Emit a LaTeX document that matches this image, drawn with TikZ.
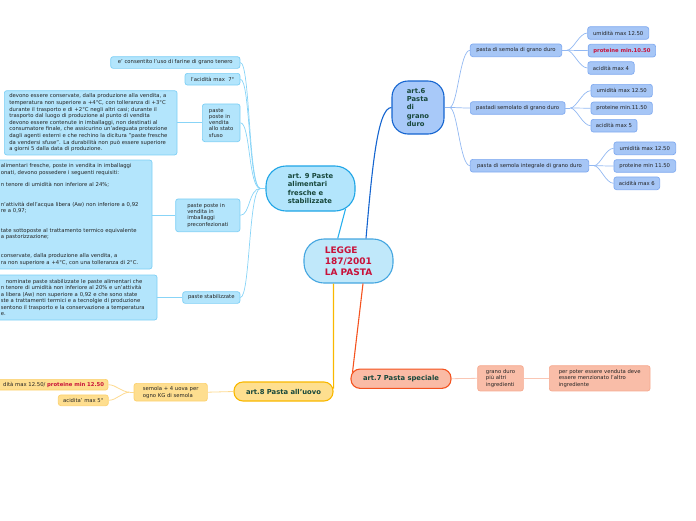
\documentclass[tikz,border=0pt]{standalone}
\usepackage{fontspec}
\setmainfont{DejaVu Sans}
\usetikzlibrary{calc}
\definecolor{headtxt}{HTML}{17473B}
\definecolor{leaftxt}{HTML}{222222}
\definecolor{redtxt}{HTML}{C8123A}
\definecolor{lgfill}{HTML}{C0E8FA}
\definecolor{lgline}{HTML}{45A6E0}
\definecolor{a9fill}{HTML}{B3E5FC}
\definecolor{a9line}{HTML}{1FA5E6}
\definecolor{l9fill}{HTML}{B3E5FC}
\definecolor{l9line}{HTML}{7DCFF5}
\definecolor{col9}{HTML}{88D4F7}
\definecolor{col9main}{HTML}{29B0EE}
\definecolor{a6fill}{HTML}{A8C9F9}
\definecolor{a6line}{HTML}{1565D0}
\definecolor{l6fill}{HTML}{A6C6F6}
\definecolor{l6line}{HTML}{80AAF0}
\definecolor{col6}{HTML}{92B8F2}
\definecolor{a8fill}{HTML}{FEDF8F}
\definecolor{a8line}{HTML}{F9B800}
\definecolor{l8fill}{HTML}{FEDE8F}
\definecolor{l8line}{HTML}{FCD16E}
\definecolor{col8}{HTML}{FDDA90}
\definecolor{a7fill}{HTML}{FABBA5}
\definecolor{a7line}{HTML}{F4531F}
\definecolor{l7fill}{HTML}{F9BDA8}
\definecolor{l7line}{HTML}{F6AA90}
\definecolor{col7}{HTML}{FAC6B4}
\begin{document}
\begin{tikzpicture}[x=1pt,y=-1pt,
  head/.style={draw, align=left, inner sep=0pt, line width=1.1pt, text=headtxt,
    font=\fontsize{6.8}{8.3}\selectfont\bfseries},
  leaf/.style={draw, align=left, inner sep=0pt, rounded corners=2.5pt, line width=0.7pt,
    text=leaftxt, font=\fontsize{5.3}{6.3}\selectfont},
  sz/.style 2 args={minimum width=#1, minimum height=#2},
  b9/.style={leaf, fill=l9fill, draw=l9line},
  b6/.style={leaf, fill=l6fill, draw=l6line},
  b8/.style={leaf, fill=l8fill, draw=l8line},
  b7/.style={leaf, fill=l7fill, draw=l7line},
  con9/.style={draw=col9, line width=0.7pt},
  con6/.style={draw=col6, line width=0.7pt},
  con8/.style={draw=col8, line width=0.8pt},
  con7/.style={draw=col7, line width=0.8pt},
  mainline/.style={line width=1.1pt}
]
\useasboundingbox (0,0) rectangle (696,520);
\clip (0,0) rectangle (696,520);

% main nodes
\node[head, fill=lgfill, draw=lgline, rounded corners=20pt, sz={89}{44}, text=redtxt,
  font=\fontsize{9}{11}\selectfont\bfseries] (legge) at (348.5,261) {LEGGE\\187/2001\\LA PASTA};
\node[head, fill=a9fill, draw=a9line, rounded corners=20pt, sz={89}{45}] (art9) at (310.5,188.5)
  {art. 9 Paste\\alimentari\\fresche e\\stabilizzate};
\node[head, fill=a6fill, draw=a6line, rounded corners=16pt, sz={52}{53}] (art6) at (418,107.5)
  {art.6\\Pasta\\di\\grano\\duro};
\node[head, fill=a8fill, draw=a8line, rounded corners=9pt, sz={99}{19}] (art8) at (283.5,391.5)
  {art.8 Pasta all'uovo};
\node[head, fill=a7fill, draw=a7line, rounded corners=9pt, sz={100}{19.3}] (art7) at (401,378.7)
  {art.7 Pasta speciale};

% art.6 branch
\node[b6, sz={91.4}{12.7}] (p1) at (516,50.3) {pasta di semola di grano duro};
\node[b6, sz={94.7}{12.6}] (p2) at (517.7,108) {pastadi semolato di grano duro};
\node[b6, sz={118.4}{12.7}] (p3) at (529.5,165.7) {pasta di semola integrale di grano duro};
\node[b6, sz={61}{12.6}] (q11) at (618.2,33) {umidità max 12.50};
\node[b6, sz={67.4}{12.7}] (q12) at (621.9,50.6) {\textbf{\color{redtxt}proteine min.10.50}};
\node[b6, sz={46.3}{12.6}] (q13) at (611,68) {acidità max 4};
\node[b6, sz={61.3}{12.7}] (q21) at (621.7,90.7) {umidità max 12.50};
\node[b6, sz={61.3}{12.3}] (q22) at (621.7,108.2) {proteine min.11.50};
\node[b6, sz={46}{12.7}] (q23) at (614,125.7) {acidità max 5};
\node[b6, sz={61.7}{12.7}] (q31) at (644.8,148.3) {umidità max 12.50};
\node[b6, sz={61.7}{12.6}] (q32) at (644.8,166) {proteine min 11.50};
\node[b6, sz={45.7}{12.7}] (q33) at (636.8,183.3) {acidità max 6};

% art.9 branch
\node[b9, sz={129.3}{11.7}] (n1) at (175.3,62.5) {e' consentito l'uso di farine di grano tenero};
\node[b9, sz={55}{11.7}] (n2) at (212.5,79.2) {l'acidità max~~7°};
\node[b9, sz={37.7}{37.7}] (n3) at (221.2,122.8) {paste\\poste in\\vendita\\allo stato\\sfuso};
\node[b9, anchor=west, text width=162.7pt, inner xsep=5pt, minimum height=64.3,
  font=\fontsize{5.3}{6.6}\selectfont] (t3) at (4,122.8)
  {devono essere conservate, dalla produzione alla vendita, a\\
   temperatura non superiore a +4°C, con tolleranza di +3°C\\
   durante il trasporto e di +2°C negli altri casi; durante il\\
   trasporto dal luogo di produzione al punto di vendita\\
   devono essere contenute in imballaggi, non destinati al\\
   consumatore finale, che assicurino un'adeguata protezione\\
   dagli agenti esterni e che rechino la dicitura "paste fresche\\
   da vendersi sfuse". La durabilità non può essere superiore\\
   a giorni 5 dalla data di produzione.};
\node[b9, sz={64.3}{32.7}] (n4) at (207.8,215.3) {paste poste in\\vendita in\\imballaggi\\preconfezionati};
\node[b9, anchor=west, text width=140.7pt, inner xsep=10.5pt, minimum height=109,
  font=\fontsize{5.3}{6.45}\selectfont] (t4) at (-10,214.5)
  {alimentari fresche, poste in vendita in imballaggi\\
   onati, devono possedere i seguenti requisiti:\\[6.45pt]
   n tenore di umidità non inferiore al 24\%;\\[12.9pt]
   n'attività dell'acqua libera (Aw) non inferiore a 0,92\\
   re a 0,97;\\[12.9pt]
   tate sottoposte al trattamento termico equivalente\\
   a pastorizzazione;\\[12.9pt]
   conservate, dalla produzione alla vendita, a\\
   ra non superiore a +4°C, con una tolleranza di 2°C.};
\node[b9, sz={57.3}{11.7}] (n5) at (211.3,297.5) {paste stabilizzate};
\node[b9, anchor=west, text width=145.7pt, inner xsep=10.5pt, minimum height=45,
  font=\fontsize{5.3}{6.4}\selectfont] (t5) at (-10,297.5)
  {\hspace*{5pt}nominate paste stabilizzate le paste alimentari che\\
   n tenore di umidità non inferiore al 20\% e un'attività\\
   a libera (Aw) non superiore a 0,92 e che sono state\\
   ste a trattamenti termici e a tecnolgie di produzione\\
   sentono il trasporto e la conservazione a temperatura\\
   e.};

% art.8 branch
\node[b8, sz={73.3}{17.7}, font=\fontsize{5.3}{6.7}\selectfont] (s1) at (170.7,392.2)
  {semola + 4 uova per\\ogno KG di semola};
\node[b8, anchor=east, text width=120pt, align=right, inner xsep=4pt, minimum height=10.7] (s2)
  at (108.3,384.7) {dità max 12.50/ \textbf{\color{redtxt}proteine min 12.50}};
\node[b8, sz={50}{10.7}] (s3) at (83.3,400.3) {acidita' max 5°};

% art.7 branch
\node[b7, sz={45.7}{25.3}] (r1) at (500.5,378.3) {grano duro\\più altri\\ingredienti};
\node[b7, sz={100.7}{25.3}] (r2) at (599.7,378.3)
  {per poter essere venduta deve\\essere menzionato l'altro\\ingrediente};

% main connectors
\draw[mainline, draw=a6line] ($(legge.north)+(17.5,0)$) .. controls ($(legge.north)+(23.5,-69)$)
  and ($(art6.west)+(-14,0)$) .. (art6.west);
\draw[mainline, draw=col9main] ($(legge.north)+(-10.8,0)$) -- ($(art9.south east)+(-10,-2.7)$);
\draw[mainline, draw=a8line] ($(legge.south)+(-15,0)$) -- ($(art8.east)+(0,-3)$);
\draw[mainline, draw=a7line] ($(legge.south)+(14.5,0)$) -- ($(art7.west)+(2,-6)$);

% art.6 fan
\draw[con6] (art6.east) -- ++(5,0) coordinate (f6);
\foreach \n in {p1,p2,p3}
  \draw[con6] (f6) .. controls ($(f6)+(8,0)$) and ($(\n.west)+(-10,0)$) .. (\n.west);
\draw[con6] (p1.east) -- ++(5,0) coordinate (g1);
\foreach \n in {q11,q12,q13}
  \draw[con6] (g1) .. controls ($(g1)+(6,0)$) and ($(\n.west)+(-8,0)$) .. (\n.west);
\draw[con6] (p2.east) -- ++(5,0) coordinate (g2);
\foreach \n in {q21,q22,q23}
  \draw[con6] (g2) .. controls ($(g2)+(6,0)$) and ($(\n.west)+(-8,0)$) .. (\n.west);
\draw[con6] (p3.east) -- ++(5,0) coordinate (g3);
\foreach \n in {q31,q32,q33}
  \draw[con6] (g3) .. controls ($(g3)+(6,0)$) and ($(\n.west)+(-8,0)$) .. (\n.west);

% art.9 fan
\draw[con9] (art9.west) -- ++(-5,0) coordinate (f9);
\foreach \n in {n1,n2,n3,n4,n5}
  \draw[con9] (f9) .. controls ($(f9)+(-12,0)$) and ($(\n.east)+(10,0)$) .. (\n.east);
\draw[con9] (n3.west) -- (n3.west -| t3.east);
\draw[con9] (n4.west) -- (n4.west -| t4.east);
\draw[con9] (n5.west) -- (n5.west -| t5.east);

% art.8
\draw[con8] (art8.west) -- (s1.east);
\draw[con8] (s1.west) -- ++(-4,0) coordinate (g8);
\foreach \n in {s2,s3}
  \draw[con8] (g8) .. controls ($(g8)+(-8,0)$) and ($(\n.east)+(8,0)$) .. (\n.east);

% art.7
\draw[con7] (art7.east) -- (r1.west);
\draw[con7] (r1.east) -- (r2.west);
\end{tikzpicture}
\end{document}
